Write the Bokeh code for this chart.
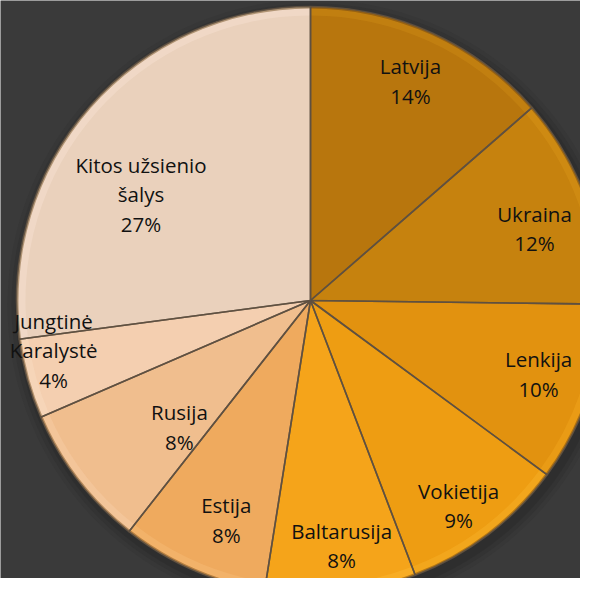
import math
from bokeh.plotting import figure
from bokeh.models import Range1d, ColumnDataSource
from bokeh.core.properties import value
from bokeh.embed import file_html
from bokeh.resources import INLINE

# ---- data ----
countries = ["Latvija", "Ukraina", "Lenkija", "Vokietija", "Baltarusija",
             "Estija", "Rusija", "Jungtinė\nKaralystė", "Kitos užsienio\nšalys"]
shares = [13.6, 11.6, 9.9, 9.1, 8.3, 8.1, 7.9, 4.4, 27.1]
colors = ["#B8760D", "#C6820E", "#E2920F", "#EE9D12", "#F5A41A",
          "#EFAA5E", "#F0BE8E", "#F4CFB0", "#EAD1BC"]
rim_colors = ["#C98614", "#D69216", "#EEA21C", "#F6AD24", "#F9B430",
              "#F4B872", "#F5CBA2", "#F8DAC0", "#F4DECE"]
# label placement (fraction of radius, angular tweak in degrees)
label_rfrac = [0.82, 0.80, 0.815, 0.86, 0.84, 0.80, 0.62, 0.89, 0.68]
label_dang = [0.0, 2.4, -0.7, 1.4, -1.3, -2.6, -6.4, 4.5, -9.2]

PW, PH = 580, 578          # plot size in px; 1 data unit = 1 px
REF_H = 594
CX, CY, R = 310.0, REF_H - 300.0, 294.0

total = sum(shares)
starts, ends = [], []
cum = 0.0
for s in shares:
    a0 = math.pi / 2 - 2 * math.pi * cum / total
    cum += s
    a1 = math.pi / 2 - 2 * math.pi * cum / total
    starts.append(a1)
    ends.append(a0)

src = ColumnDataSource(dict(start=starts, end=ends, color=colors, rim=rim_colors))

p = figure(width=PW, height=PH, output_backend="svg", toolbar_location=None,
           x_range=Range1d(0, PW), y_range=Range1d(REF_H - PH, REF_H),
           match_aspect=False)
p.axis.visible = False
p.grid.visible = False
p.outline_line_color = None
p.background_fill_color = "#3a3a3a"
p.border_fill_color = "#3a3a3a"
p.min_border = 0

# soft shadow
for dr, a in [(12, 0.08), (8, 0.12), (4, 0.18)]:
    p.circle(x=CX + 3, y=CY - 5, radius=R + dr, fill_color="#1a1a1a",
             fill_alpha=a, line_color=None)

# main slices
p.wedge(x=CX, y=CY, radius=R, start_angle="start", end_angle="end",
        fill_color="color", line_color=None, source=src)
# bevel rim
p.annular_wedge(x=CX, y=CY, inner_radius=R - 9, outer_radius=R - 2,
                start_angle="start", end_angle="end", fill_color="rim",
                fill_alpha=0.55, line_color=None, source=src)
p.annular_wedge(x=CX, y=CY, inner_radius=R - 2, outer_radius=R,
                start_angle="start", end_angle="end", fill_color="#6b4a1c",
                fill_alpha=0.45, line_color=None, source=src)
# slice separators
p.wedge(x=CX, y=CY, radius=R, start_angle="start", end_angle="end",
        fill_color=None, line_color="#5e5040", line_width=1.6, line_alpha=0.9,
        source=src)

# labels
lx, ly, lt = [], [], []
cum = 0.0
for name, s, rf, da in zip(countries, shares, label_rfrac, label_dang):
    mid = (cum + s / 2) / total
    cum += s
    ang = math.radians(mid * 360 + da)
    rr = R * rf
    lx.append(CX + rr * math.sin(ang))
    ly.append(CY + rr * math.cos(ang))
    lt.append(f"{name}\n{round(s)}%")

p.text(x=lx, y=ly, text=lt, text_align="center", text_baseline="middle",
       text_font=value("Open Sans"), text_font_size="20.5px",
       text_color="#111111", text_line_height=1.05)

open("out.html", "w").write(file_html(p, INLINE))
